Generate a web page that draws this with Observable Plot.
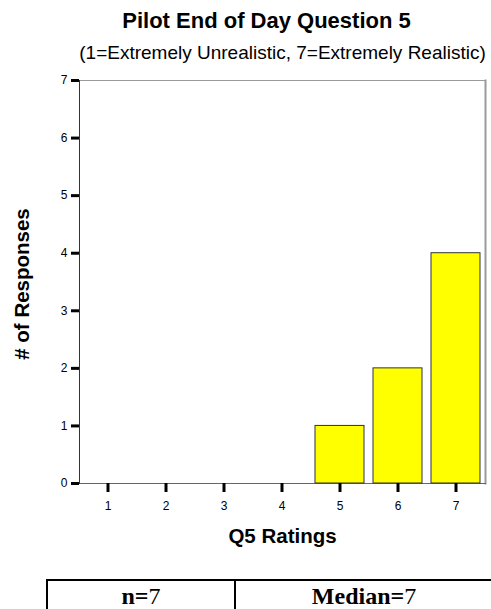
<!DOCTYPE html>
<html>
<head>
<meta charset="utf-8">
<script src="https://cdn.jsdelivr.net/npm/d3@7"></script>
<script src="https://cdn.jsdelivr.net/npm/@observablehq/plot@0.6"></script>
<style>
  html, body { margin: 0; padding: 0; background: #fff; overflow: hidden; }
  #wrap { position: relative; width: 491px; height: 609px; }
  #wrap svg { position: absolute; left: 0; top: 0; }
  .stats { position: absolute; left: 46px; top: 579px; display: flex; border-top: 2px solid #000;
           font-family: "Liberation Serif", "Times New Roman", serif; font-size: 24px; color: #000; }
  .cell { border-left: 2px solid #000; text-align: center; height: 30px; line-height: 30px; }
  .c1 { width: 186px; }
  .c2 { width: 256px; border-right: 2px solid #000; }
  .cell b { font-weight: bold; }
</style>
</head>
<body>
<div id="wrap"></div>
<script>
// ---- data ----
const ratings = ["1", "2", "3", "4", "5", "6", "7"];
const counts = [0, 0, 0, 0, 1, 2, 4];
const yTicks = [0, 1, 2, 3, 4, 5, 6, 7];
const titleText = "Pilot End of Day Question 5";
const subtitleText = "(1=Extremely Unrealistic, 7=Extremely Realistic)";
const xLabelText = "Q5 Ratings";
const yLabelText = "# of Responses";
const statN = 7;
const statMedian = 7;

const data = ratings.map((r, i) => ({rating: r, count: counts[i]}));
const font = "'Liberation Sans', Arial, Helvetica, sans-serif";

const plot = Plot.plot({
  width: 491,
  height: 579,
  marginLeft: 79,
  marginRight: 6,
  marginTop: 80,
  marginBottom: 96,
  style: {fontFamily: font, background: "#fff", color: "#000", overflow: "visible"},
  x: {domain: ratings, paddingInner: 0.15, paddingOuter: 0.075, axis: null},
  y: {domain: [0, 7], axis: null},
  marks: [
    Plot.frame({stroke: "#9a9a9a", strokeWidth: 1}),
    Plot.frame({anchor: "right", stroke: "#9a9a9a", strokeWidth: 2}),
    Plot.frame({anchor: "bottom", stroke: "#666", strokeWidth: 1}),
    Plot.frame({anchor: "left", stroke: "#333", strokeWidth: 1}),
    Plot.barY(data.filter(d => d.count > 0), {x: "rating", y: "count", fill: "#ffff00", stroke: "#333", strokeWidth: 1}),
    Plot.axisY({ticks: yTicks, tickSize: 8, tickPadding: 4, stroke: "#000", strokeWidth: 3, fontSize: 12, label: null, tickFormat: d => String(d)}),
    Plot.axisX({tickSize: 9, tickPadding: 9, stroke: "#000", strokeWidth: 3, fontSize: 12, label: null}),
    Plot.text([titleText], {frameAnchor: "top", lineAnchor: "middle", dx: -16, dy: -60, fontSize: 22, fontWeight: "bold", fill: "#000"}),
    Plot.text([subtitleText], {frameAnchor: "top", lineAnchor: "middle", dy: -28, fontSize: 19, fill: "#000"}),
    Plot.text([xLabelText], {frameAnchor: "bottom", lineAnchor: "middle", dy: 53, fontSize: 20.5, fontWeight: "bold", fill: "#000"}),
    Plot.text([yLabelText], {frameAnchor: "left", textAnchor: "middle", lineAnchor: "middle", dx: -57, dy: 2, rotate: -90, fontSize: 20.5, fontWeight: "bold", fill: "#000"})
  ]
});

const wrap = document.getElementById("wrap");
wrap.appendChild(plot);

const stats = document.createElement("div");
stats.className = "stats";
stats.innerHTML = `<div class="cell c1"><b>n=</b>${statN}</div><div class="cell c2"><b>Median=</b>${statMedian}</div>`;
wrap.appendChild(stats);
</script>
</body>
</html>
